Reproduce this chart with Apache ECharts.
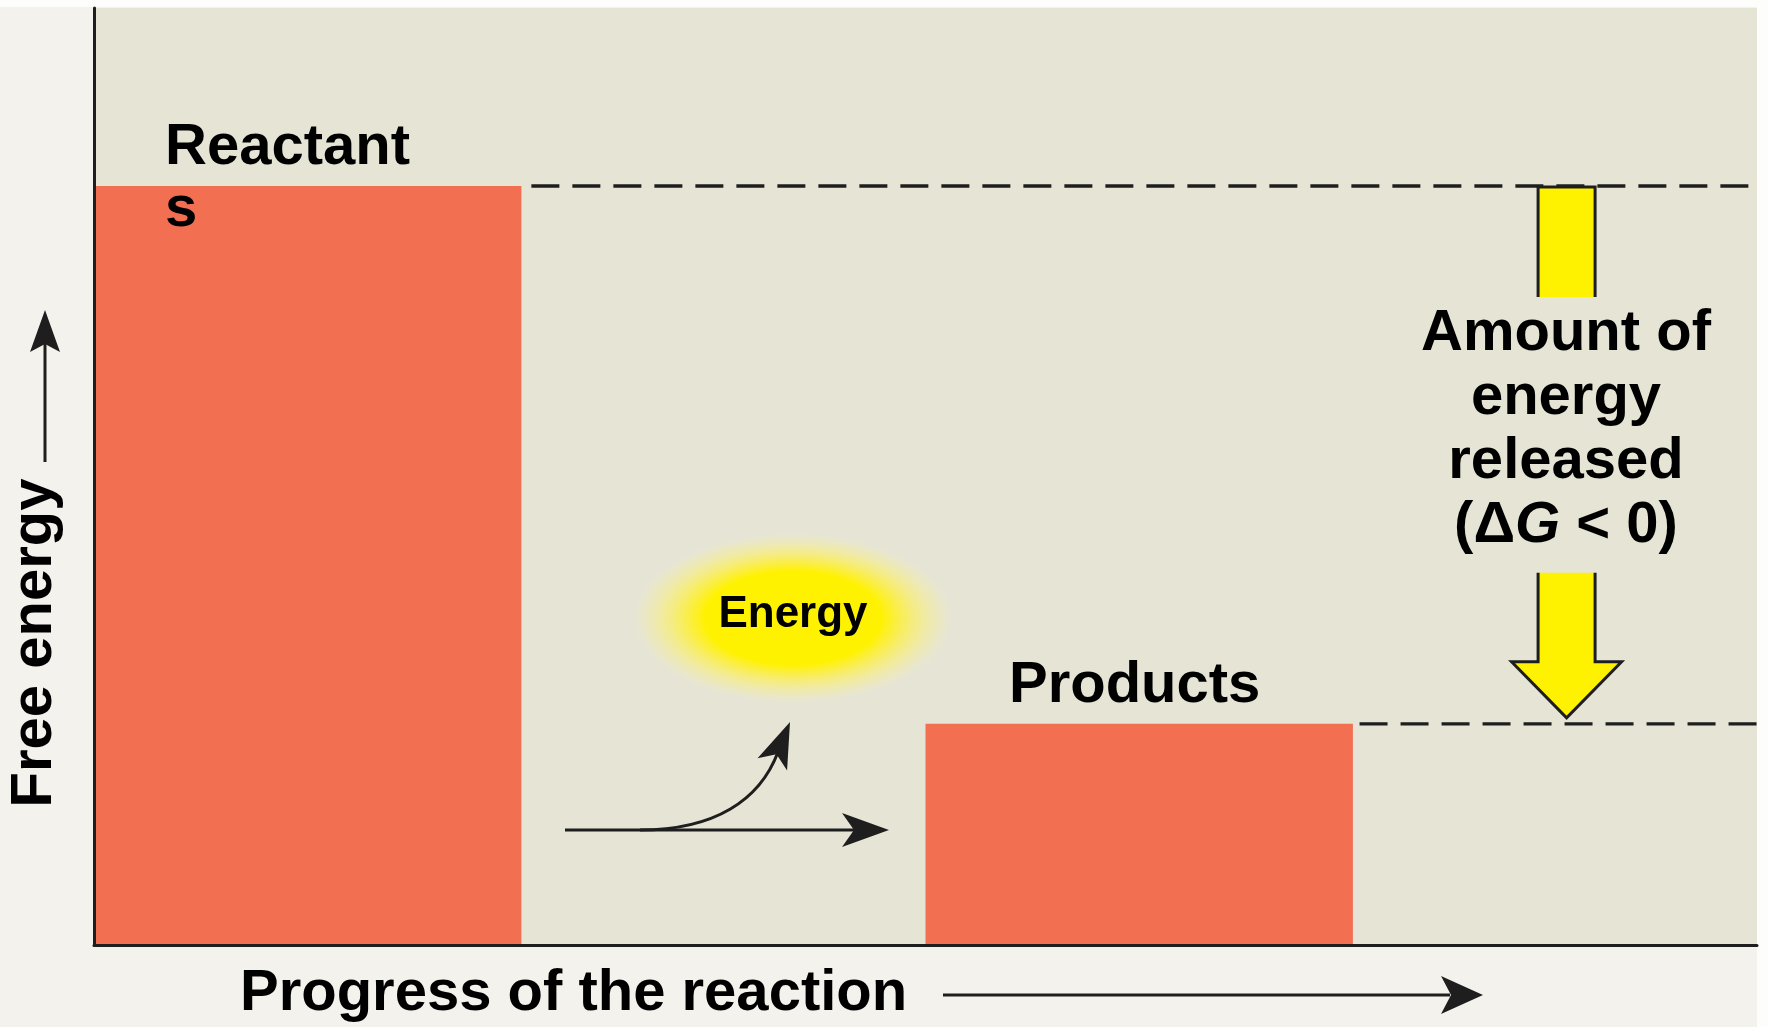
<!DOCTYPE html>
<html>
<head>
<meta charset="utf-8">
<script src="https://cdn.jsdelivr.net/npm/echarts@6/dist/echarts.min.js"></script>
<style>
  html, body { margin: 0; padding: 0; background: #f4f2ec; }
  #chart { width: 1768px; height: 1027px; }
</style>
</head>
<body>
<div id="chart"></div>
<script>
// ---- data ----
const stages = ['Reactants', 'Products'];
const stageStart = [0, 50];
const stageEnd = [25.7, 75.7];
const freeEnergy = [81.0, 23.6];
const levelLineStart = [26.3, 76.1];
const deltaArrowX = 88.55;
const deltaLabel = ['Amount of', 'energy', 'released'];

const FONT = "'Liberation Sans', Arial, sans-serif";
const chart = echarts.init(document.getElementById('chart'), null, { renderer: 'canvas' });

const barData = stages.map((s, i) => [stageStart[i], stageEnd[i], freeEnergy[i], s]);

function arrowHead(tip, dir, len, half, notch) {
  const n = Math.hypot(dir[0], dir[1]);
  const d = [dir[0] / n, dir[1] / n];
  const p = [-d[1], d[0]];
  const base = [tip[0] - d[0] * len, tip[1] - d[1] * len];
  const nt = [tip[0] - d[0] * (len - notch), tip[1] - d[1] * (len - notch)];
  return {
    type: 'polygon',
    shape: { points: [tip, [base[0] + p[0] * half, base[1] + p[1] * half], nt, [base[0] - p[0] * half, base[1] - p[1] * half]] },
    style: { fill: '#1e1e1e' }
  };
}

const option = {
  backgroundColor: '#f4f2ec',
  animation: false,
  grid: { left: 94, right: 11, top: 8, bottom: 82, show: true, backgroundColor: '#e6e5d5', borderWidth: 0 },
  xAxis: {
    type: 'value', min: 0, max: 100, z: 5,
    axisLine: { show: true, lineStyle: { color: '#1e1e1e', width: 3 } },
    axisTick: { show: false }, axisLabel: { show: false }, splitLine: { show: false }
  },
  yAxis: {
    type: 'value', min: 0, max: 100, z: 5,
    axisLine: { show: true, lineStyle: { color: '#1e1e1e', width: 3 } },
    axisTick: { show: false }, axisLabel: { show: false }, splitLine: { show: false }
  },
  series: [
    {
      type: 'custom',
      name: 'Free energy',
      data: barData,
      renderItem: function (params, api) {
        const p0 = api.coord([api.value(0), api.value(2)]);
        const p1 = api.coord([api.value(1), 0]);
        return {
          type: 'rect',
          shape: { x: p0[0], y: p0[1], width: p1[0] - p0[0], height: p1[1] - p0[1] },
          style: { fill: '#f26f52' }
        };
      }
    },
    {
      type: 'line', symbol: 'none', silent: true,
      data: [[levelLineStart[0], freeEnergy[0]], [100, freeEnergy[0]]],
      lineStyle: { color: '#1e1e1e', width: 3.4, type: [28, 13] }
    },
    {
      type: 'line', symbol: 'none', silent: true,
      data: [[levelLineStart[1], freeEnergy[1]], [100, freeEnergy[1]]],
      lineStyle: { color: '#1e1e1e', width: 3.4, type: [28, 13] }
    },
    {
      type: 'custom',
      name: 'delta',
      z: 4,
      data: [[deltaArrowX, freeEnergy[0], freeEnergy[1]]],
      renderItem: function (params, api) {
        const top = api.coord([api.value(0), api.value(1)]);
        const bot = api.coord([api.value(0), api.value(2)]);
        const cx = top[0];
        const sh = 28.5, hh = 55;
        const t0 = top[1] + 1, t1 = top[1] + 111;
        const s0 = bot[1] - 151, hb = bot[1] - 62, tip = bot[1] - 6;
        const fill = '#fff200', stroke = '#1e1e1e';
        return {
          type: 'group',
          children: [
            { type: 'rect', shape: { x: cx - sh, y: t0, width: 2 * sh, height: t1 - t0 }, style: { fill: fill } },
            { type: 'polyline', shape: { points: [[cx - sh, t1], [cx - sh, t0], [cx + sh, t0], [cx + sh, t1]] },
              style: { stroke: stroke, lineWidth: 3, fill: null } },
            { type: 'polygon', shape: { points: [[cx - sh, s0], [cx + sh, s0], [cx + sh, hb], [cx + hh, hb], [cx, tip], [cx - hh, hb], [cx - sh, hb]] },
              style: { fill: fill } },
            { type: 'polyline', shape: { points: [[cx - sh, s0], [cx - sh, hb], [cx - hh, hb], [cx, tip], [cx + hh, hb], [cx + sh, hb], [cx + sh, s0]] },
              style: { stroke: stroke, lineWidth: 3, fill: null, lineJoin: 'miter' } }
          ]
        };
      }
    }
  ],
  graphic: [
    // white strips at top and right
    { type: 'rect', shape: { x: 0, y: 0, width: 1768, height: 7 }, style: { fill: '#fdfdfb' }, z: 0 },
    { type: 'rect', shape: { x: 1757, y: 0, width: 11, height: 1027 }, style: { fill: '#fdfdfb' }, z: 0 },
    // energy glow
    {
      type: 'circle', x: 793, y: 618, scaleX: 160 / 85, scaleY: 1, z: 1,
      shape: { cx: 0, cy: 0, r: 85 },
      style: {
        fill: {
          type: 'radial', x: 0.5, y: 0.5, r: 0.5,
          colorStops: [
            { offset: 0, color: 'rgba(255,242,0,1)' },
            { offset: 0.55, color: 'rgba(255,242,0,1)' },
            { offset: 0.66, color: 'rgba(255,240,40,0.8)' },
            { offset: 0.8, color: 'rgba(252,240,100,0.55)' },
            { offset: 0.92, color: 'rgba(246,238,150,0.3)' },
            { offset: 1, color: 'rgba(240,236,190,0)' }
          ]
        }
      }
    },
    { type: 'text', x: 793, y: 615, z: 10,
      style: { text: 'Energy', font: 'bold 44px ' + FONT, fill: '#000', align: 'center', verticalAlign: 'middle' } },
    // stage labels
    { type: 'text', x: 165, y: 179, z: 10,
      style: { text: 'Reactant\ns', font: 'bold 58px ' + FONT, lineHeight: 62, fill: '#000', align: 'left', verticalAlign: 'middle' } },
    { type: 'text', x: 1009, y: 686, z: 10,
      style: { text: 'Products', font: 'bold 58px ' + FONT, fill: '#000', align: 'left', verticalAlign: 'middle' } },
    // delta G label
    { type: 'text', x: 1566, y: 334, z: 10,
      style: { text: deltaLabel[0], font: 'bold 58px ' + FONT, fill: '#000', align: 'center', verticalAlign: 'middle' } },
    { type: 'text', x: 1566, y: 398, z: 10,
      style: { text: deltaLabel[1], font: 'bold 58px ' + FONT, fill: '#000', align: 'center', verticalAlign: 'middle' } },
    { type: 'text', x: 1566, y: 462, z: 10,
      style: { text: deltaLabel[2], font: 'bold 58px ' + FONT, fill: '#000', align: 'center', verticalAlign: 'middle' } },
    { type: 'text', x: 1566, y: 526, z: 10,
      style: {
        text: '{n|(Δ}{i|G}{n| < 0)}', align: 'center', verticalAlign: 'middle',
        rich: {
          n: { font: 'bold 58px ' + FONT, fill: '#000' },
          i: { font: 'italic bold 58px ' + FONT, fill: '#000' }
        }
      } },
    // axis titles
    { type: 'text', x: 240, y: 994, z: 10,
      style: { text: 'Progress of the reaction', font: 'bold 58px ' + FONT, fill: '#000', align: 'left', verticalAlign: 'middle' } },
    { type: 'text', x: 35, y: 643, rotation: Math.PI / 2, z: 10,
      style: { text: 'Free energy', font: 'bold 58px ' + FONT, fill: '#000', align: 'center', verticalAlign: 'middle' } },
    // axis arrows
    { type: 'line', shape: { x1: 943, y1: 995, x2: 1450, y2: 995 }, style: { stroke: '#1e1e1e', lineWidth: 3 }, z: 10 },
    Object.assign(arrowHead([1483, 995], [1, 0], 42, 19, 10), { z: 10 }),
    { type: 'line', shape: { x1: 45, y1: 462, x2: 45, y2: 340 }, style: { stroke: '#1e1e1e', lineWidth: 3 }, z: 10 },
    Object.assign(arrowHead([45, 310], [0, -1], 42, 15, 8), { z: 10 }),
    // reaction arrows
    { type: 'line', shape: { x1: 565, y1: 830, x2: 860, y2: 830 }, style: { stroke: '#1e1e1e', lineWidth: 3 }, z: 10 },
    Object.assign(arrowHead([889, 830], [1, 0], 47, 17, 12), { z: 10 }),
    { type: 'bezierCurve', shape: { x1: 640, y1: 830, cpx1: 715, cpy1: 830, cpx2: 760, cpy2: 800, x2: 778, y2: 752 },
      style: { stroke: '#1e1e1e', lineWidth: 3, fill: null }, z: 10 },
    Object.assign(arrowHead([790, 722], [20, -48], 46, 16, 11), { z: 10 })
  ]
};
chart.setOption(option);
</script>
</body>
</html>
